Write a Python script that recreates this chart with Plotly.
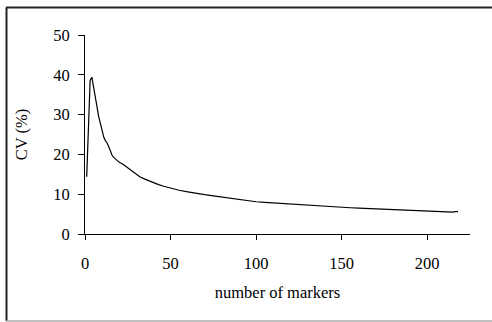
import plotly.graph_objects as go

markers = [1, 2, 3, 4, 5, 6, 7, 8, 9, 10, 11, 12, 13, 14, 15, 16, 17, 18, 20, 22, 24, 26, 28, 30,
           32, 35, 38, 40, 43, 46, 50, 55, 60, 65, 70, 75, 80, 85, 90, 95, 100, 105, 110, 115,
           120, 125, 130, 135, 140, 145, 150, 155, 160, 165, 170, 175, 180, 185, 190, 195, 200,
           205, 210, 213, 215, 217, 218]
cv = [14.4, 27.0, 38.6, 39.4, 36.5, 34.0, 32.0, 29.5, 27.5, 25.6, 24.3, 23.4, 22.8, 21.8, 20.6,
      19.6, 19.2, 18.8, 18.0, 17.6, 17.0, 16.2, 15.6, 15.0, 14.4, 13.8, 13.2, 12.8, 12.4, 12.0,
      11.5, 11.0, 10.6, 10.2, 9.9, 9.6, 9.3, 9.0, 8.6, 8.4, 8.1, 7.95, 7.8, 7.65, 7.5, 7.35, 7.2,
      7.1, 6.95, 6.85, 6.75, 6.6, 6.5, 6.4, 6.3, 6.2, 6.15, 6.1, 5.95, 5.85, 5.8, 5.75, 5.65, 5.6,
      5.5, 5.7, 5.5]
x_ticks = [0, 50, 100, 150, 200]
y_ticks = [0, 10, 20, 30, 40, 50]

W, H = 492, 322
L, R, T, B = 85, 22, 35, 88
pw, ph = W - L - R, H - T - B

def px(x):
    return (x - L) / pw

def py(y):
    return (H - B - y) / ph

FONT = "Liberation Serif, Times New Roman, serif"
FS = 16.5

fig = go.Figure()
fig.add_trace(go.Scatter(x=markers, y=cv, mode="lines",
                         line=dict(color="black", width=1.2), showlegend=False,
                         hoverinfo="skip"))

fig.update_layout(
    width=W, height=H,
    margin=dict(l=L, r=R, t=T, b=B, pad=0),
    paper_bgcolor="white", plot_bgcolor="white",
    font=dict(family=FONT, size=FS, color="black"),
    xaxis=dict(range=[0, 225], tickvals=x_ticks, showgrid=False, zeroline=False,
               showline=True, linecolor="black", linewidth=1,
               ticks="outside", ticklen=5, tickcolor="black",
               ticklabelstandoff=9,
               title=dict(text="number of markers", standoff=14,
                          font=dict(family=FONT, size=FS))),
    yaxis=dict(range=[0, 50], tickvals=y_ticks, showgrid=False, zeroline=False,
               showline=True, linecolor="black", linewidth=1,
               ticks="outside", ticklen=6, tickcolor="black",
               ticklabelstandoff=5,
               title=dict(text="CV (%)", standoff=21,
                          font=dict(family=FONT, size=FS))),
    shapes=[
        dict(type="line", xref="paper", yref="paper", x0=px(6), x1=px(492), y0=py(7.5), y1=py(7.5),
             line=dict(color="#222222", width=2)),
        dict(type="line", xref="paper", yref="paper", x0=px(6.5), x1=px(6.5), y0=py(7.5), y1=py(321),
             line=dict(color="#222222", width=2)),
        dict(type="line", xref="paper", yref="paper", x0=px(6), x1=px(492), y0=py(321), y1=py(321),
             line=dict(color="#aaaaaa", width=1.5)),
    ],
)

fig.write_html("out.html", config={"displayModeBar": False},
               post_script="document.body.style.margin='0';document.body.style.overflow='hidden';")
